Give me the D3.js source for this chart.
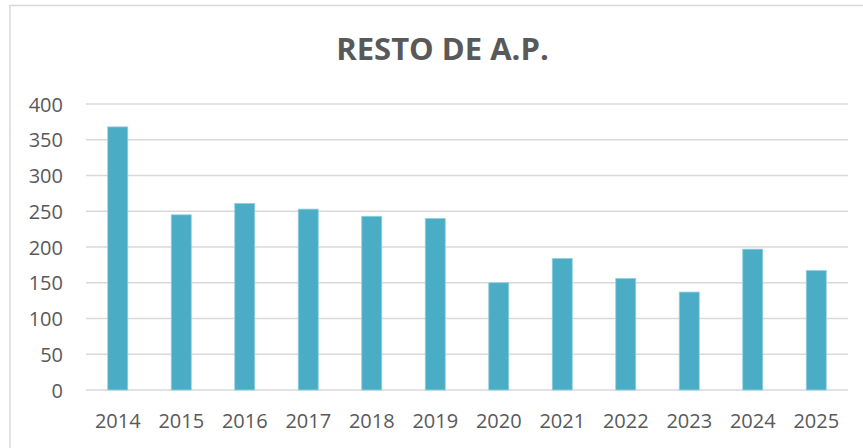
<!DOCTYPE html>
<html>
<head>
<meta charset="utf-8">
<script src="https://cdn.jsdelivr.net/npm/d3@7"></script>
<style>
  html, body { margin: 0; padding: 0; background: #fff; }
  svg { display: block; }
</style>
</head>
<body>
<svg id="chart" width="863" height="448"></svg>
<script>
const categories = ["2014","2015","2016","2017","2018","2019","2020","2021","2022","2023","2024","2025"];
const values = [368, 245, 261, 253, 243, 240, 150, 184, 156, 137, 197, 167];
const yTicks = [0, 50, 100, 150, 200, 250, 300, 350, 400];
const title = "RESTO DE A.P.";

const svg = d3.select("#chart");
const margin = { left: 86, top: 104 };
const plotRight = 848, plotBottom = 390;

// chart frame
svg.append("rect")
  .attr("x", 10).attr("y", 5.5)
  .attr("width", 880).attr("height", 460)
  .attr("fill", "#fff")
  .attr("stroke", "#d9d9d9").attr("stroke-width", 1.5);

const x = d3.scaleBand()
  .domain(categories)
  .range([margin.left, plotRight])
  .paddingInner(0.685)
  .paddingOuter(0.3425);

const y = d3.scaleLinear()
  .domain([0, 400])
  .range([plotBottom, margin.top]);

// gridlines
svg.append("g")
  .selectAll("line")
  .data(yTicks)
  .join("line")
  .attr("x1", margin.left).attr("x2", plotRight)
  .attr("y1", d => y(d)).attr("y2", d => y(d))
  .attr("stroke", "#d9d9d9").attr("stroke-width", 1.5);

// y axis labels
const yAxis = d3.axisLeft(y).tickValues(yTicks).tickSize(0).tickPadding(0);
const gy = svg.append("g").attr("transform", `translate(63,0)`).call(yAxis);
gy.select(".domain").remove();
gy.selectAll("text")
  .attr("font-family", "'Open Sans', sans-serif")
  .attr("font-size", 20)
  .attr("fill", "#595959")
  .attr("dy", "0.36em");

// bars
svg.append("g")
  .selectAll("rect")
  .data(values)
  .join("rect")
  .attr("x", (d, i) => x(categories[i]))
  .attr("y", d => y(d))
  .attr("width", x.bandwidth())
  .attr("height", d => plotBottom - y(d))
  .attr("fill", "#4bacc6")
  .attr("stroke", "#93cfdf")
  .attr("stroke-width", 0.8);

// x axis labels
const xAxis = d3.axisBottom(x).tickSize(0).tickPadding(0);
const gx = svg.append("g").attr("transform", `translate(0,${plotBottom})`).call(xAxis);
gx.select(".domain").remove();
gx.selectAll("text")
  .attr("font-family", "'Open Sans', sans-serif")
  .attr("font-size", 20)
  .attr("fill", "#595959")
  .attr("dy", null)
  .attr("y", 37.5);

// title
svg.append("text")
  .attr("x", 442.5).attr("y", 59.5)
  .attr("text-anchor", "middle")
  .attr("font-family", "'Open Sans', sans-serif")
  .attr("font-weight", "bold")
  .attr("font-size", 31)
  .attr("fill", "#595959")
  .text(title);
</script>
</body>
</html>
